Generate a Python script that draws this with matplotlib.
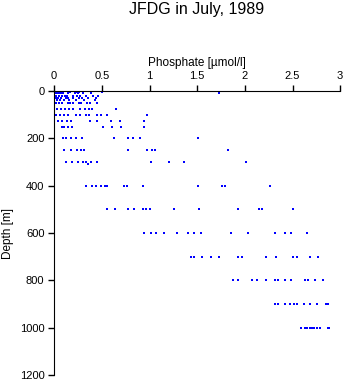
import matplotlib
matplotlib.use("Agg")
import matplotlib.pyplot as plt

plt.rcParams['font.family'] = ['Liberation Sans', 'DejaVu Sans']

# phosphate values [umol/l] read per sampling depth [m]
depths = [0, 5, 10, 20, 30, 40, 50, 75, 100, 125, 150, 200, 250, 300, 310,
          400, 500, 600, 700, 800, 900, 1000]
phosphate = [
    [0.01, 0.03, 0.05, 0.07, 0.16, 0.23, 0.25, 0.27, 0.41],
    [0.0, 0.02, 0.04, 0.06, 0.08, 0.17, 0.24, 0.26, 0.5],
    [0.01, 0.03, 0.05, 0.07, 0.09, 0.14, 0.22, 0.25, 0.3, 0.39, 1.73],
    [0.0, 0.02, 0.05, 0.08, 0.11, 0.13, 0.2, 0.24, 0.27, 0.33, 0.41, 0.46],
    [0.02, 0.04, 0.07, 0.12, 0.15, 0.2, 0.26, 0.29, 0.36, 0.44],
    [0.0, 0.03, 0.06, 0.1, 0.16, 0.23, 0.31, 0.43],
    [0.0, 0.02, 0.05, 0.08, 0.14, 0.17, 0.2, 0.26, 0.28, 0.34, 0.38, 0.45],
    [0.0, 0.03, 0.07, 0.11, 0.16, 0.2, 0.27, 0.32, 0.37, 0.4, 0.65],
    [0.02, 0.06, 0.1, 0.14, 0.23, 0.27, 0.33, 0.37, 0.45, 0.49, 0.55, 0.97],
    [0.04, 0.08, 0.13, 0.18, 0.38, 0.45, 0.6, 0.69, 0.94],
    [0.08, 0.1, 0.14, 0.19, 0.51, 0.61, 0.7, 0.94],
    [0.09, 0.12, 0.18, 0.23, 0.29, 0.63, 0.77, 0.83, 0.9, 1.51],
    [0.1, 0.18, 0.24, 0.28, 0.31, 0.77, 0.97, 1.03, 1.06, 1.82],
    [0.12, 0.19, 0.25, 0.3, 0.33, 0.39, 0.45, 1.02, 1.2, 1.36, 2.01],
    [0.36],
    [0.33, 0.4, 0.44, 0.49, 0.53, 0.55, 0.73, 0.76, 0.93, 1.51, 1.76, 1.79,
     2.26],
    [0.55, 0.64, 0.77, 0.84, 0.93, 0.96, 1.01, 1.26, 1.52, 1.93, 2.15, 2.18,
     2.5],
    [0.94, 1.02, 1.07, 1.15, 1.29, 1.4, 1.47, 1.54, 1.86, 2.03, 2.32, 2.42,
     2.48, 2.65],
    [1.44, 1.47, 1.55, 1.65, 1.73, 1.93, 1.97, 2.22, 2.33, 2.51, 2.55, 2.68,
     2.77],
    [1.88, 1.93, 2.08, 2.13, 2.22, 2.32, 2.35, 2.42, 2.48, 2.63, 2.66, 2.74,
     2.82],
    [2.32, 2.35, 2.42, 2.47, 2.52, 2.55, 2.62, 2.68, 2.76, 2.85, 2.87],
    [2.59, 2.63, 2.65, 2.68, 2.7, 2.73, 2.76, 2.79, 2.87, 2.88],
]

x_ticks = [0, 0.5, 1, 1.5, 2, 2.5, 3]
x_labels = ['0', '0.5', '1', '1.5', '2', '2.5', '3']
y_ticks = [0, 200, 400, 600, 800, 1000, 1200]

xs, ys = [], []
for d, vals in zip(depths, phosphate):
    xs += vals
    ys += [d] * len(vals)

fig = plt.figure(figsize=(3.45, 3.84), dpi=100)
ax = fig.add_axes([0.157, 0.023, 0.829, 0.740])

ax.scatter(xs, ys, marker='s', s=3.5, color='#0000ff', linewidths=0)

ax.set_xlim(0, 3)
ax.set_ylim(1200, 0)
ax.xaxis.tick_top()
ax.xaxis.set_label_position('top')
ax.set_xticks(x_ticks)
ax.set_xticklabels(x_labels)
ax.set_yticks(y_ticks)
ax.tick_params(axis='both', labelsize=8, length=4, width=1, pad=3,
               direction='out')
ax.spines['right'].set_visible(False)
ax.spines['bottom'].set_visible(False)

ax.set_xlabel('Phosphate [µmol/l]', fontsize=8.5, labelpad=4)
ax.set_ylabel('Depth [m]', fontsize=8.5, labelpad=4)
fig.suptitle('JFDG in July, 1989', x=0.571, y=0.974, va='center',
             fontsize=11.5)

fig.savefig('out.png', dpi=100)
